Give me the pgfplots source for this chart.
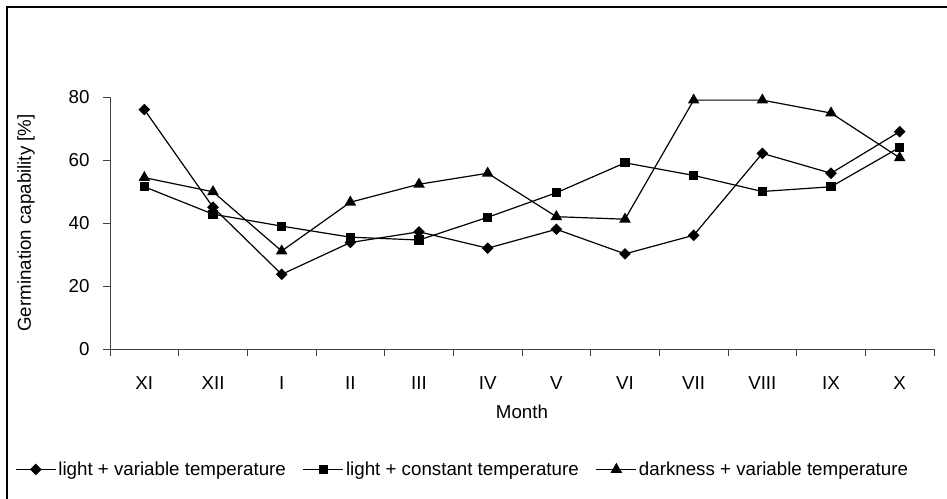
\documentclass[border=0pt]{standalone}
\usepackage{fontspec}
\setmainfont{Liberation Sans}
\usepackage{pgfplots}
\pgfplotsset{compat=1.18}
\begin{document}
\begin{tikzpicture}[x=1bp,y=1bp]
\path[use as bounding box] (0,0) rectangle (947,499);
\draw[line width=1.8bp] (6.7,-2) -- (6.7,492) -- (949,492);
\begin{axis}[
  at={(110bp,150bp)}, anchor=south west,
  scale only axis, width=824bp, height=252bp,
  xmin=0, xmax=12, ymin=0, ymax=80,
  axis x line*=bottom, axis y line*=left,
  axis line style={black!75, line width=0.9bp},
  tick style={black!75, line width=0.9bp},
  tick align=outside, major tick length=7bp,
  xtick={0,...,12}, x tick label as interval,
  xticklabels={XI,XII,I,II,III,IV,V,VI,VII,VIII,IX,X},
  ytick={0,20,40,60,80},
  /pgf/number format/assume math mode=true,
  tick label style={font=\fontsize{18.8}{21}\selectfont},
  xticklabel style={yshift=-17bp},
  yticklabel style={xshift=-10bp},
  label style={font=\fontsize{18.8}{21}\selectfont},
  xlabel={Month},
  xlabel style={at={(axis description cs:0.5,-0.25)}, anchor=center},
  ylabel={Germination capability [\%]},
  ylabel style={at={(axis description cs:-0.102,0.5)}, anchor=center},
  legend columns=3,
  legend style={draw=none, fill=none, at={(axis description cs:-0.1153,-0.478)}, anchor=west,
    font=\fontsize{18.8}{21}\selectfont, inner sep=0pt,
    /tikz/every even column/.append style={column sep=15bp}},
  legend image code/.code={\draw[mark repeat=2,mark phase=2] plot coordinates {(0bp,0bp)(20bp,0bp)(40bp,0bp)};},
  every axis plot/.append style={black, line width=1.2bp},
]
\addplot[mark=square*, mark size=3.5bp, mark options={rotate=45, solid}] coordinates {
(0.5,76) (1.5,45) (2.5,23.7) (3.5,33.8) (4.5,37.2) (5.5,32) (6.5,38) (7.5,30.2) (8.5,36.1) (9.5,62.1) (10.5,55.8) (11.5,69)};
\addlegendentry{light + variable temperature}
\addplot[mark=square*, mark size=4bp] coordinates {
(0.5,51.5) (1.5,42.8) (2.5,39) (3.5,35.5) (4.5,34.6) (5.5,41.8) (6.5,49.6) (7.5,59.1) (8.5,55.1) (9.5,50) (10.5,51.5) (11.5,64)};
\addlegendentry{light + constant temperature}
\addplot[mark=triangle*, mark size=5.5bp] coordinates {
(0.5,54.4) (1.5,49.9) (2.5,31.1) (3.5,46.6) (4.5,52.3) (5.5,55.8) (6.5,42) (7.5,41.2) (8.5,79) (9.5,79) (10.5,74.9) (11.5,60.7)};
\addlegendentry{darkness + variable temperature}
\end{axis}
\end{tikzpicture}
\end{document}
